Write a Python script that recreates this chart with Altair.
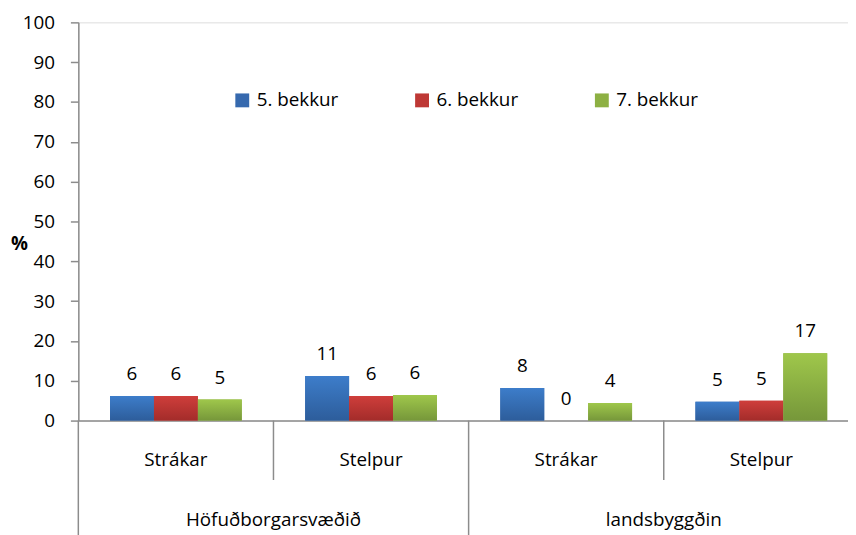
import altair as alt
import pandas as pd

regions = ["Höfuðborgarsvæðið", "landsbyggðin"]
sexes = ["Strákar", "Stelpur"]
grades = ["5. bekkur", "6. bekkur", "7. bekkur"]

# values per (region, sex), in grade order
v_hofud_strakar = [6.2, 6.2, 5.3]
v_hofud_stelpur = [11.2, 6.2, 6.4]
v_lands_strakar = [8.2, 0.0, 4.4]
v_lands_stelpur = [4.7, 5.0, 16.9]

series = {
    ("Höfuðborgarsvæðið", "Strákar"): v_hofud_strakar,
    ("Höfuðborgarsvæðið", "Stelpur"): v_hofud_stelpur,
    ("landsbyggðin", "Strákar"): v_lands_strakar,
    ("landsbyggðin", "Stelpur"): v_lands_stelpur,
}

rows = []
cells = []
for r in regions:
    for s in sexes:
        cell = f"{r}|{s}"
        cells.append({"cell": cell, "region": r, "sex": s})
        for g, v in zip(grades, series[(r, s)]):
            rows.append({"cell": cell, "region": r, "sex": s, "grade": g,
                         "value": v, "label": str(int(round(v)))})
df = pd.DataFrame(rows)
cells_df = pd.DataFrame(cells)
cell_order = [c["cell"] for c in cells]

FONT = "Open Sans"
GRAY = "#8c8c8c"
solid = ["#3669ae", "#be3835", "#8db043"]
grads = [("#3d7dca", "#2d5d9b"), ("#cf3e3b", "#a32c2a"), ("#9fc74b", "#76973a")]

x_scale = alt.Scale(domain=cell_order, paddingInner=0, paddingOuter=0)
x_axis = alt.Axis(labels=False, ticks=False, title=None, domainColor=GRAY,
                  domainWidth=1.5, grid=False)
off_scale = alt.Scale(domain=grades, range=[32, 165], paddingInner=0, paddingOuter=0)

def X(band=None):
    if band is None:
        return alt.X("cell:N", sort=cell_order, scale=x_scale, axis=x_axis)
    return alt.X("cell:N", sort=cell_order, scale=x_scale, axis=x_axis, bandPosition=band)

y_enc = alt.Y("value:Q", scale=alt.Scale(domain=[0, 100], nice=False),
              axis=alt.Axis(values=list(range(0, 101, 10)), title="%", titleAngle=0,
                            titleX=-60, titleY=223, titleAlign="center",
                            titleBaseline="middle", titleFont=FONT, titleFontSize=19,
                            titleFontWeight="bold", titleColor="black",
                            labelFont=FONT, labelFontSize=19, labelColor="black",
                            labelPadding=16, tickSize=8, tickColor=GRAY, tickWidth=1.5,
                            domainColor=GRAY, domainWidth=1.5, grid=False))

off = alt.XOffset("grade:N", sort=grades, scale=off_scale)

base = alt.Chart(df)

bars = base.mark_bar().encode(
    x=X(), xOffset=off, y=y_enc,
    color=alt.Color("grade:N", sort=grades,
                    scale=alt.Scale(domain=grades, range=solid),
                    legend=alt.Legend(title=None, orient="none", legendX=156, legendY=69,
                                      direction="horizontal", symbolType="square",
                                      symbolSize=196, symbolStrokeWidth=0,
                                      labelFont=FONT, labelFontSize=19, labelColor="black",
                                      labelOffset=5, columnPadding=74.5)),
)

grad_layers = []
for g, (c1, c2) in zip(grades, grads):
    grad = alt.LinearGradient(gradient="linear", x1=0, x2=0, y1=0, y2=1,
                              stops=[alt.GradientStop(color=c1, offset=0),
                                     alt.GradientStop(color=c2, offset=1)])
    grad_layers.append(
        base.transform_filter(alt.datum.grade == g).mark_bar(color=grad).encode(
            x=X(), xOffset=off, y=y_enc)
    )

labels = base.mark_text(font=FONT, fontSize=19, color="black", baseline="alphabetic",
                        dy=-16).encode(x=X(), xOffset=off, y=y_enc, text="label:N")

cbase = alt.Chart(cells_df)
sex_text = cbase.mark_text(font=FONT, fontSize=19, color="black", baseline="middle").encode(
    x=X(), y=alt.value(442), text="sex:N")
region_text = cbase.transform_filter(alt.datum.sex == "Stelpur").mark_text(
    font=FONT, fontSize=19, color="black", baseline="middle").encode(
    x=X(0), y=alt.value(502), text="region:N")
long_sep = cbase.transform_filter(alt.datum.sex == "Strákar").mark_rule(
    color=GRAY, strokeWidth=1.5).encode(x=X(0), y=alt.value(402), y2=alt.value(520))
short_sep = cbase.transform_filter(alt.datum.sex == "Stelpur").mark_rule(
    color=GRAY, strokeWidth=1.5).encode(x=X(0), y=alt.value(402), y2=alt.value(462))

chart = alt.layer(bars, *grad_layers, labels, long_sep, short_sep, sex_text, region_text).properties(
    width=788, height=402,
    autosize=alt.AutoSizeParams(type="none"),
    padding={"left": 71, "top": 12, "right": -11, "bottom": 113},
).configure_view(stroke=None).configure(background="white")

chart.save("out.html", embed_options={"renderer": "svg", "actions": False})
